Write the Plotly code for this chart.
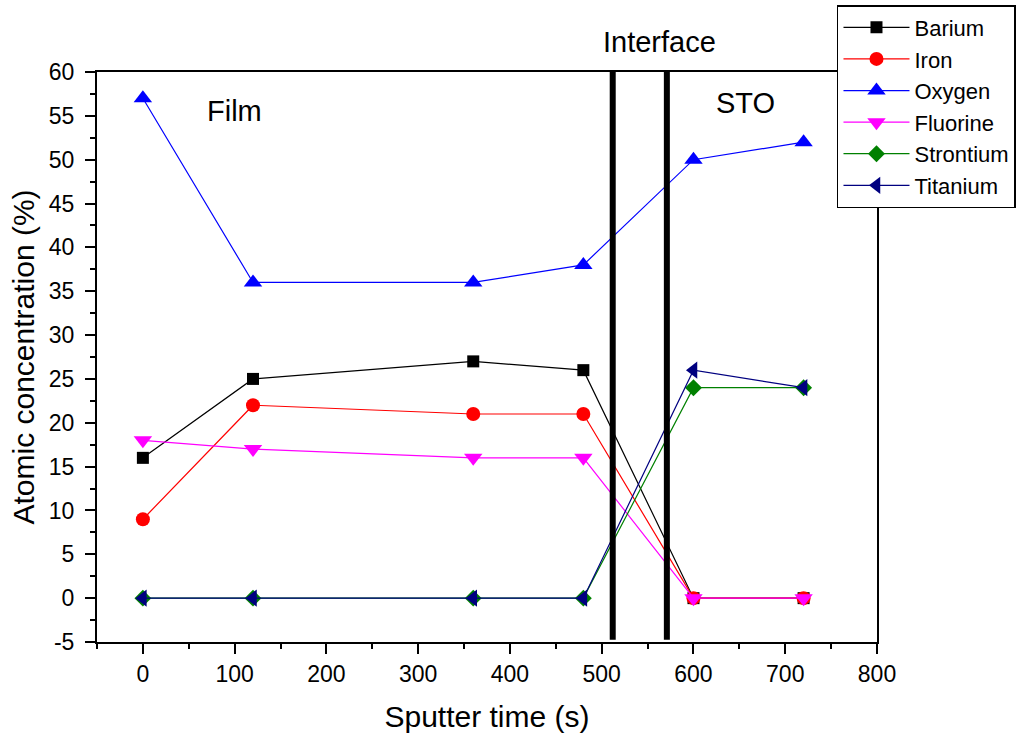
import plotly.graph_objects as go

time_s = [0, 120, 360, 480, 600, 720]
barium = [16, 25, 27, 26, 0, 0]
iron = [9, 22, 21, 21, 0, 0]
oxygen = [57, 36, 36, 38, 50, 52]
fluorine = [18, 17, 16, 16, 0, 0]
strontium = [0, 0, 0, 0, 24, 24]
titanium = [0, 0, 0, 0, 26, 24]

interface_x = [512, 571]

x_ticks = [0, 100, 200, 300, 400, 500, 600, 700, 800]
y_ticks = list(range(-5, 61, 5))
y_tick_text = [str(v) for v in y_ticks]

series = [
    ("Barium", barium, "black", "square", 12),
    ("Iron", iron, "red", "circle", 14),
    ("Oxygen", oxygen, "blue", "triangle-up", 16),
    ("Fluorine", fluorine, "magenta", "triangle-down", 16),
    ("Strontium", strontium, "green", "diamond", 13),
    ("Titanium", titanium, "navy", "triangle-left", 15),
]

FONT = "Liberation Sans, Arial, sans-serif"

fig = go.Figure()
for name, vals, col, sym, sz in series:
    fig.add_trace(go.Scatter(
        x=time_s, y=vals, name=name, mode="lines+markers",
        line=dict(color=col, width=1.2),
        marker=dict(symbol=sym, size=sz, color=col, line=dict(width=0)),
    ))

for xv in interface_x:
    fig.add_shape(type="line", x0=xv, x1=xv, y0=-4.75, y1=60.3,
                  xref="x", yref="y", line=dict(color="black", width=6),
                  layer="above")

fig.add_annotation(x=100, y=55.5, text="Film", showarrow=False,
                   font=dict(size=29, color="black", family=FONT))
fig.add_annotation(x=657, y=56.5, text="STO", showarrow=False,
                   font=dict(size=29, color="black", family=FONT))
fig.add_annotation(x=563, y=1.0, yref="paper", yanchor="middle", yshift=30,
                   text="Interface", showarrow=False,
                   font=dict(size=29, color="black", family=FONT))

axis_common = dict(
    showline=True, linecolor="black", linewidth=2, mirror=True,
    showgrid=False, zeroline=False,
    ticks="outside", ticklen=10, tickwidth=2, tickcolor="black",
    tickfont=dict(size=23, color="black", family=FONT),
)

fig.update_layout(
    width=1033, height=743,
    margin=dict(l=97, r=156, t=72, b=101, autoexpand=False),
    plot_bgcolor="white", paper_bgcolor="white",
    font=dict(family=FONT, color="black"),
    xaxis=dict(range=[-50, 800], tickvals=x_ticks,
               minor=dict(tickvals=[-50, 50, 150, 250, 350, 450, 550, 650, 750],
                          ticks="outside", ticklen=5, tickwidth=2, tickcolor="black"),
               title=dict(text="Sputter time (s)", font=dict(size=30, family=FONT), standoff=20),
               **axis_common),
    yaxis=dict(range=[-5, 60], tickvals=y_ticks, ticktext=y_tick_text,
               ticklabelstandoff=6,
               minor=dict(tickvals=[v + 2.5 for v in range(-5, 60, 5)],
                          ticks="outside", ticklen=5, tickwidth=2, tickcolor="black"),
               title=dict(text="Atomic concentration (%)", font=dict(size=30, family=FONT), standoff=5),
               **axis_common),
    legend=dict(x=0.9487, xanchor="left", y=1.1175, yanchor="top",
                bgcolor="white", bordercolor="black", borderwidth=1.5,
                font=dict(size=22, color="black", family=FONT),
                itemwidth=66, tracegroupgap=0),
    showlegend=True,
)

fig.write_html("out.html")
